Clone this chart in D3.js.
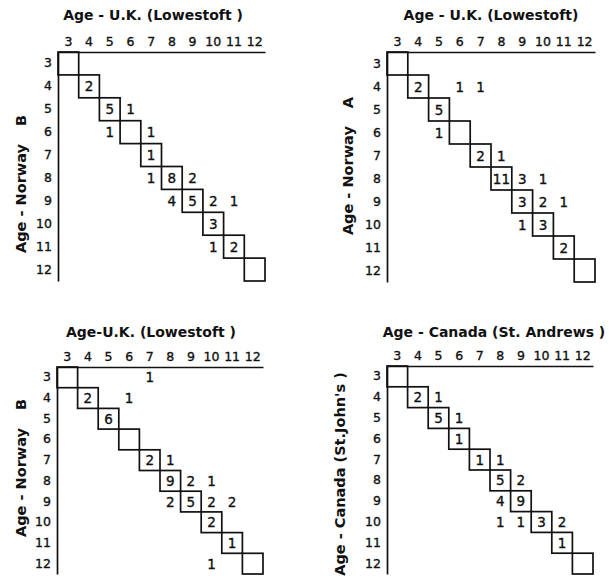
<!DOCTYPE html>
<html>
<head>
<meta charset="utf-8">
<script src="https://cdn.jsdelivr.net/npm/d3@7"></script>
<style>
  html, body { margin: 0; padding: 0; background: #fff; }
  svg { display: block; }
  text { font-family: "DejaVu Sans", sans-serif; fill: #111; }
</style>
</head>
<body>
<svg id="chart" width="609" height="578"></svg>
<script>
// Age classes shared by every reader comparison
const ages = [3, 4, 5, 6, 7, 8, 9, 10, 11, 12];

// Counts of fish as [age by vertical reader, age by horizontal reader, count]
const norwayB_ukA = [
  [4, 4, 2],
  [5, 5, 5], [5, 6, 1],
  [6, 5, 1], [6, 7, 1],
  [7, 7, 1],
  [8, 7, 1], [8, 8, 8], [8, 9, 2],
  [9, 8, 4], [9, 9, 5], [9, 10, 2], [9, 11, 1],
  [10, 10, 3],
  [11, 10, 1], [11, 11, 2]
];

const norwayA_uk = [
  [4, 4, 2], [4, 6, 1], [4, 7, 1],
  [5, 5, 5],
  [6, 5, 1],
  [7, 7, 2], [7, 8, 1],
  [8, 8, 11], [8, 9, 3], [8, 10, 1],
  [9, 9, 3], [9, 10, 2], [9, 11, 1],
  [10, 9, 1], [10, 10, 3],
  [11, 11, 2]
];

const norwayB_ukB = [
  [3, 7, 1],
  [4, 4, 2], [4, 6, 1],
  [5, 5, 6],
  [7, 7, 2], [7, 8, 1],
  [8, 8, 9], [8, 9, 2], [8, 10, 1],
  [9, 8, 2], [9, 9, 5], [9, 10, 2], [9, 11, 2],
  [10, 10, 2],
  [11, 11, 1],
  [12, 10, 1]
];

const stJohns_stAndrews = [
  [4, 4, 2], [4, 5, 1],
  [5, 5, 5], [5, 6, 1],
  [6, 6, 1],
  [7, 7, 1], [7, 8, 1],
  [8, 8, 5], [8, 9, 2],
  [9, 8, 4], [9, 9, 9],
  [10, 8, 1], [10, 9, 1], [10, 10, 3], [10, 11, 2],
  [11, 11, 1]
];

const titles = [
  "Age - U.K. (Lowestoft )",
  "Age - U.K. (Lowestoft)",
  "Age-U.K. (Lowestoft )",
  "Age - Canada (St. Andrews )"
];
// vertical titles: main text and a trailing sample letter set apart
const yTitles = [
  ["Age - Norway", "B"],
  ["Age - Norway", "A"],
  ["Age - Norway", "B"],
  ["Age - Canada (St.John's )", ""]
];
const tables = [norwayB_ukA, norwayA_uk, norwayB_ukB, stJohns_stAndrews];

// Grid placement of each small matrix
const layout = [
  { x0: 58,  x1: 265, y0: 52,  y1: 281, tx: 153, ty: 20,  lx: 21,  ly: 184 },
  { x0: 387, x1: 595, y0: 52,  y1: 282, tx: 491, ty: 20,  lx: 348, ly: 166 },
  { x0: 57,  x1: 263, y0: 367, y1: 574, tx: 151, ty: 337, lx: 21,  ly: 468 },
  { x0: 387, x1: 593, y0: 366, y1: 574, tx: 494, ty: 337, lx: 340, ly: 474 }
];

const svg = d3.select("#chart");
svg.append("rect").attr("width", 609).attr("height", 578).attr("fill", "#fff");

layout.forEach((L, i) => {
  const g = svg.append("g");
  const x = d3.scaleBand().domain(ages).range([L.x0, L.x1]);
  const y = d3.scaleBand().domain(ages).range([L.y0, L.y1]);

  // top axis: horizontal reader ages
  const xa = g.append("g")
    .attr("transform", `translate(0,${L.y0})`)
    .call(d3.axisTop(x).tickSize(0).tickSizeOuter(0).tickPadding(6));
  // left axis: vertical reader ages
  const ya = g.append("g")
    .attr("transform", `translate(${L.x0},0)`)
    .call(d3.axisLeft(y).tickSize(0).tickSizeOuter(0).tickPadding(6));

  [xa, ya].forEach(a => {
    a.select(".domain").attr("stroke", "#111").attr("stroke-width", 1.7);
    a.selectAll("text")
      .style("font-family", "DejaVu Sans, sans-serif")
      .style("font-size", "12.5px")
      .attr("fill", "#111")
      .attr("stroke", "#111")
      .attr("stroke-width", 0.35);
  });

  // diagonal of agreement: one box per age class
  g.selectAll("rect.diag")
    .data(ages)
    .join("rect")
    .attr("class", "diag")
    .attr("x", d => x(d))
    .attr("y", d => y(d))
    .attr("width", x.bandwidth())
    .attr("height", y.bandwidth())
    .attr("fill", "none")
    .attr("stroke", "#111")
    .attr("stroke-width", 1.7);

  // counts
  g.selectAll("text.count")
    .data(tables[i])
    .join("text")
    .attr("class", "count")
    .attr("x", d => x(d[1]) + x.bandwidth() / 2)
    .attr("y", d => y(d[0]) + y.bandwidth() / 2)
    .attr("text-anchor", "middle")
    .attr("dominant-baseline", "central")
    .attr("stroke", "#111")
    .attr("stroke-width", 0.35)
    .style("font-size", "13.5px")
    .text(d => d[2]);

  // panel title
  g.append("text")
    .attr("x", L.tx)
    .attr("y", L.ty)
    .attr("text-anchor", "middle")
    .style("font-size", "14px")
    .style("font-weight", "bold")
    .text(titles[i]);

  // vertical reader title
  const yt = g.append("text")
    .attr("transform", `translate(${L.lx},${L.ly}) rotate(-90)`)
    .attr("text-anchor", "middle")
    .attr("dominant-baseline", "central")
    .style("font-size", "14.5px")
    .style("font-weight", "bold");
  yt.append("tspan").text(yTitles[i][0]);
  if (yTitles[i][1]) yt.append("tspan").attr("dx", 18).text(yTitles[i][1]);
});
</script>
</body>
</html>
